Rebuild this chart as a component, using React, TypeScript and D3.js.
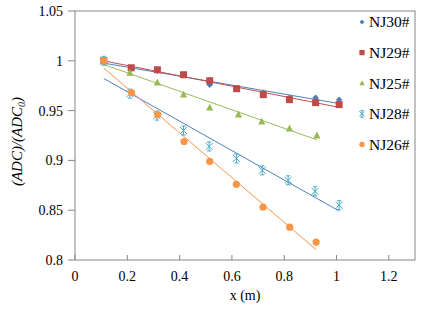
import React from 'react';
import * as d3 from 'd3';

// series data
const names = ['NJ30#', 'NJ29#', 'NJ25#', 'NJ28#', 'NJ26#'];
const xNJ30 = [0.11, 0.215, 0.315, 0.415, 0.515, 0.62, 0.72, 0.82, 0.92, 1.01];
const yNJ30 = [1.0, 0.992, 0.99, 0.986, 0.976, 0.972, 0.968, 0.963, 0.963, 0.961];
const xNJ29 = [0.11, 0.215, 0.315, 0.415, 0.515, 0.618, 0.72, 0.82, 0.92, 1.01];
const yNJ29 = [1.0, 0.993, 0.991, 0.986, 0.98, 0.972, 0.966, 0.961, 0.958, 0.956];
const xNJ25 = [0.11, 0.21, 0.315, 0.415, 0.515, 0.625, 0.714, 0.82, 0.925];
const yNJ25 = [1.0, 0.988, 0.978, 0.966, 0.953, 0.946, 0.939, 0.932, 0.925];
const xNJ28 = [0.11, 0.21, 0.313, 0.415, 0.513, 0.617, 0.716, 0.815, 0.918, 1.01];
const yNJ28 = [1.0, 0.967, 0.945, 0.93, 0.914, 0.902, 0.89, 0.88, 0.869, 0.855];
const xNJ26 = [0.11, 0.216, 0.316, 0.417, 0.515, 0.617, 0.719, 0.821, 0.922];
const yNJ26 = [1.0, 0.968, 0.946, 0.919, 0.899, 0.876, 0.853, 0.833, 0.818];

const xTicks = [0, 0.2, 0.4, 0.6, 0.8, 1, 1.2];
const yTicks = [0.8, 0.85, 0.9, 0.95, 1, 1.05];

const markerColors = ['#4a7ebb', '#be4b48', '#98b954', '#4bacc6', '#f79646'];
const lineColors = ['#4f81bd', '#c0504d', '#9bbb59', '#4f81bd', '#f79646'];
const shapes = ['diamond', 'square', 'triangle', 'star', 'circle'];

const W = 436;
const H = 311;
const m = { left: 75, right: 415, top: 11, bottom: 260 };

const x = d3.scaleLinear().domain([0, 1.3]).range([m.left, m.right]);
const y = d3.scaleLinear().domain([0.8, 1.05]).range([m.bottom, m.top]);

const fmt = (v: number) => (v === 0 ? '0' : String(v));

function fit(xs: number[], ys: number[]) {
  const mx = d3.mean(xs) as number;
  const my = d3.mean(ys) as number;
  let sxy = 0, sxx = 0;
  xs.forEach((v, i) => {
    sxy += (v - mx) * (ys[i] - my);
    sxx += (v - mx) * (v - mx);
  });
  const b = sxy / sxx;
  const a = my - b * mx;
  const x0 = d3.min(xs) as number;
  const x1 = d3.max(xs) as number;
  return [
    [x0, a + b * x0],
    [x1, a + b * x1],
  ];
}

function Marker({ shape, cx, cy, color, s }: any) {
  if (shape === 'diamond') {
    return <path d={`M${cx},${cy - s}L${cx + s},${cy}L${cx},${cy + s}L${cx - s},${cy}Z`} fill={color} />;
  }
  if (shape === 'square') {
    return <rect x={cx - s} y={cy - s} width={2 * s} height={2 * s} fill={color} />;
  }
  if (shape === 'triangle') {
    return <path d={`M${cx},${cy - s * 1.1}L${cx + s},${cy + s * 0.8}L${cx - s},${cy + s * 0.8}Z`} fill={color} />;
  }
  if (shape === 'star') {
    const d = s * 0.8;
    return (
      <path
        d={`M${cx},${cy - s}V${cy + s}M${cx - d},${cy - d}L${cx + d},${cy + d}M${cx + d},${cy - d}L${cx - d},${cy + d}M${cx - d * 0.6},${cy - s}H${cx + d * 0.6}M${cx - d * 0.6},${cy + s}H${cx + d * 0.6}`}
        stroke={color}
        strokeWidth={1}
        fill="none"
      />
    );
  }
  return <circle cx={cx} cy={cy} r={s} fill={color} />;
}

export default function App() {
  const series = [
    [xNJ30, yNJ30],
    [xNJ29, yNJ29],
    [xNJ25, yNJ25],
    [xNJ28, yNJ28],
    [xNJ26, yNJ26],
  ];
  const line = d3
    .line<number[]>()
    .x(d => x(d[0]))
    .y(d => y(d[1]));
  const sizes = [3.2, 3.5, 3.6, 4.5, 3.6];
  const font = "'Liberation Serif', serif";

  return (
    <svg width={W} height={H} style={{ position: 'absolute', left: 0, top: 0, background: '#fff', fontFamily: font }}>
      <rect x={m.left} y={m.top} width={m.right - m.left} height={m.bottom - m.top} fill="none" stroke="#868686" strokeWidth={1} />
      {yTicks.map(t => (
        <g key={'y' + t}>
          <line x1={m.left - 7} x2={m.left} y1={y(t)} y2={y(t)} stroke="#868686" />
          <text x={m.left - 12} y={y(t)} dy="0.35em" textAnchor="end" fontSize={14} fill="#000" style={{ fontFamily: font }}>
            {fmt(t)}
          </text>
        </g>
      ))}
      {xTicks.map(t => (
        <g key={'x' + t}>
          <line x1={x(t)} x2={x(t)} y1={m.bottom - 5} y2={m.bottom} stroke="#868686" />
          <text x={x(t)} y={m.bottom + 21} textAnchor="middle" fontSize={14} fill="#000" style={{ fontFamily: font }}>
            {fmt(t)}
          </text>
        </g>
      ))}
      <text x={(m.left + m.right) / 2} y={m.bottom + 40} textAnchor="middle" fontSize={14} style={{ fontFamily: font }}>
        x (m)
      </text>
      <text transform={`translate(22,${(m.top + m.bottom) / 2 + 6}) rotate(-90)`} textAnchor="middle" fontSize={15} fontStyle="italic" style={{ fontFamily: font }}>
        (ADC)/(ADC<tspan fontSize={10} dy={3}>0</tspan>
        <tspan dy={-3}>)</tspan>
      </text>

      {series.map((s, i) => (
        <path key={'l' + i} d={line(fit(s[0], s[1])) as string} stroke={lineColors[i]} strokeWidth={1} fill="none" />
      ))}
      {series.map((s, i) =>
        s[0].map((v, j) => (
          <Marker key={`m${i}-${j}`} shape={shapes[i]} cx={x(v)} cy={y(s[1][j])} color={markerColors[i]} s={sizes[i]} />
        ))
      )}

      {names.map((n, i) => (
        <g key={n} transform={`translate(362,${22 + i * 30.6})`}>
          <Marker shape={shapes[i]} cx={0} cy={0} color={markerColors[i]} s={sizes[i] * 0.75} />
          <text x={7} dy="0.35em" fontSize={15.5} style={{ fontFamily: font }}>
            {n}
          </text>
        </g>
      ))}
    </svg>
  );
}
